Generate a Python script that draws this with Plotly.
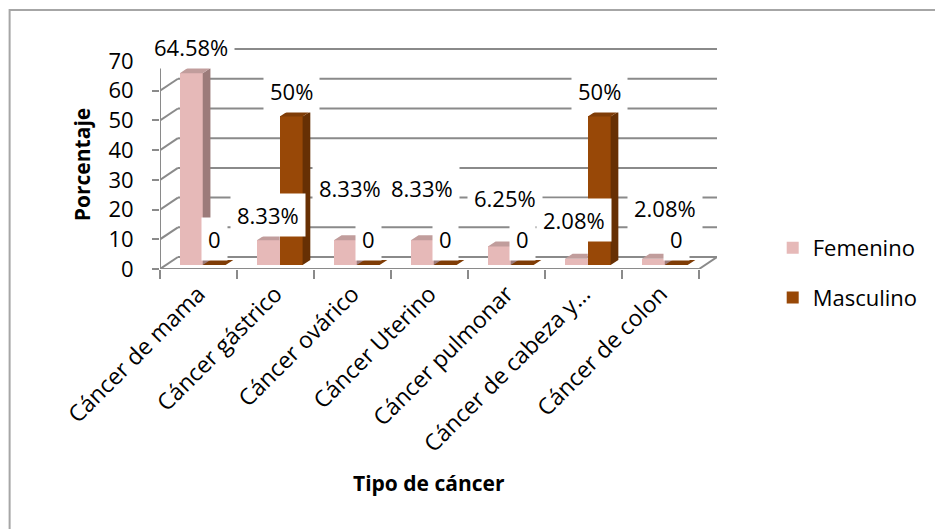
import plotly.graph_objects as go

# ---- data -------------------------------------------------------------
categorias = ["Cáncer de mama", "Cáncer gástrico", "Cáncer ovárico", "Cáncer Uterino",
              "Cáncer pulmonar", "Cáncer de cabeza y…", "Cáncer de colon"]
femenino = [64.58, 8.33, 8.33, 8.33, 6.25, 2.08, 2.08]
masculino = [0, 50, 0, 0, 0, 50, 0]
ticks_y = [0, 10, 20, 30, 40, 50, 60, 70]

# ---- styling / pseudo-3D geometry (axis units) -------------------------
FONT = "Open Sans"
ROSA, ROSA_TOP, ROSA_LADO = "#E6B9B8", "#C19d9c", "#9c7b7a"
CAFE, CAFE_TOP, CAFE_LADO = "#984807", "#7f3c06", "#673004"
GRIS = "#8a8a8a"

W = 0.297      # bar width
S = 0.055      # row offset of the bar row
LIFT = 1.35    # bar base above the front floor edge
DX, DY = 0.10, 1.7    # bar depth
BX, BY = 0.233, 4.04  # wall depth
Y_MAX = 74.4

# extra placement of the Femenino value labels (dx in categories, dy in %)
fem_lbl_dx = [0, 0, 0.06, 0, 0.07, -0.03, 0.15]
fem_lbl_dy = [0, 0, 9, 9, 7.5, 4.5, 8.5]


def etiqueta(v):
    return "0" if v == 0 else f"{v:g}%"


n = len(categorias)
fig = go.Figure()

# front faces
fig.add_trace(go.Bar(
    x=[i + S - W / 2 for i in range(n)], y=femenino, base=[LIFT] * n, width=W,
    marker=dict(color=ROSA, line=dict(width=0)), name="Femenino",
    legendgroup="f"))
fig.add_trace(go.Bar(
    x=[i + S + W / 2 for i in range(n)], y=masculino, base=[LIFT] * n, width=W,
    marker=dict(color=CAFE, line=dict(width=0)), name="Masculino",
    legendgroup="m"))


def poly_trace(polys, color):
    xs, ys = [], []
    for p in polys:
        xs += [q[0] for q in p] + [p[0][0], None]
        ys += [q[1] for q in p] + [p[0][1], None]
    return go.Scatter(x=xs, y=ys, mode="lines", fill="toself", fillcolor=color,
                      line=dict(width=0, color=color), hoverinfo="skip",
                      showlegend=False)


fem_side, fem_top, masc_side, masc_top = [], [], [], []
for i, (fv, mv) in enumerate(zip(femenino, masculino)):
    fx0, fx1 = i + S - W, i + S
    mx0, mx1 = i + S, i + S + W
    t, m = LIFT + fv, LIFT + mv
    if fv > mv:
        fem_side.append([(fx1, m), (fx1, t), (fx1 + DX, t + DY), (fx1 + DX, m)])
        fem_top.append([(fx0, t), (fx1, t), (fx1 + DX, t + DY), (fx0 + DX, t + DY)])
    else:
        fem_top.append([(fx0, t), (fx1, t), (fx1, t + DY), (fx0 + DX, t + DY)])
    if mv > 0:
        masc_side.append([(mx1, LIFT), (mx1, m), (mx1 + DX, m + DY), (mx1 + DX, LIFT + DY)])
    masc_top.append([(mx0, m), (mx1, m), (mx1 + DX, m + DY), (mx0 + DX, m + DY)])

fig.add_trace(poly_trace(fem_side, ROSA_LADO))
fig.add_trace(poly_trace(fem_top, ROSA_TOP))
fig.add_trace(poly_trace(masc_side, CAFE_LADO))
fig.add_trace(poly_trace(masc_top, CAFE_TOP))

# ---- walls, floor and gridlines --------------------------------------
shapes = []
x_lo, x_hi = -0.5, n - 0.5
for v in ticks_y:
    shapes.append(dict(type="line", xref="x", yref="y", layer="below",
                       x0=x_lo + BX, x1=x_hi + BX, y0=v + BY, y1=v + BY,
                       line=dict(color=GRIS, width=2)))
    shapes.append(dict(type="line", xref="x", yref="y", layer="below",
                       x0=x_lo, x1=x_lo + BX, y0=v, y1=v + BY,
                       line=dict(color=GRIS, width=2)))
shapes.append(dict(type="line", xref="x", yref="y", layer="below",
                   x0=x_lo, x1=x_lo, y0=0, y1=ticks_y[-1],
                   line=dict(color=GRIS, width=2)))
shapes.append(dict(type="line", xref="x", yref="y", layer="below",
                   x0=x_lo, x1=x_hi, y0=0, y1=0, line=dict(color=GRIS, width=2)))
shapes.append(dict(type="line", xref="x", yref="y", layer="below",
                   x0=x_hi, x1=x_hi + BX, y0=0, y1=BY, line=dict(color=GRIS, width=2)))
# chart area frame
shapes.append(dict(type="rect", xref="paper", yref="paper",
                   x0=-0.27, x1=1.41, y0=-1.23, y1=1.172,
                   line=dict(color="#a6a6a6", width=2), fillcolor="rgba(0,0,0,0)"))

# ---- value labels ------------------------------------------------------
annotations = []
for i, (fv, mv) in enumerate(zip(femenino, masculino)):
    yf = fv + 10 + fem_lbl_dy[i]
    annotations.append(dict(
        x=i + S - W / 2 + fem_lbl_dx[i], y=min(yf, Y_MAX), yshift=max(0, yf - Y_MAX) * 2.97,
        xref="x", yref="y",
        text=etiqueta(fv), showarrow=False, bgcolor="white", borderpad=6,
        xanchor="center", yanchor="middle",
        font=dict(family=FONT, size=22, color="black")))
    annotations.append(dict(
        x=i + S + W / 2, y=mv + 10, xref="x", yref="y",
        text=etiqueta(mv), showarrow=False, bgcolor="white", borderpad=6,
        xanchor="center", yanchor="middle",
        font=dict(family=FONT, size=22, color="black")))

# axis titles
annotations.append(dict(text="<b>Tipo de cáncer</b>", xref="paper", yref="paper",
                        x=0.483, y=-0.968, showarrow=False,
                        xanchor="center", yanchor="middle",
                        font=dict(family=FONT, size=21, color="black")))
annotations.append(dict(text="<b>Porcentaje</b>", xref="paper", yref="paper",
                        x=-0.14, y=0.47, showarrow=False, textangle=-90,
                        xanchor="center", yanchor="middle",
                        font=dict(family=FONT, size=21, color="black")))

fig.update_layout(
    width=935, height=529,
    margin=dict(l=160, r=216, t=48, b=260),
    paper_bgcolor="white", plot_bgcolor="white",
    barmode="overlay", bargap=0,
    font=dict(family=FONT, size=22, color="black"),
    shapes=shapes, annotations=annotations,
    showlegend=True,
    legend=dict(x=1.10, y=0.19, xanchor="left", yanchor="top",
                tracegroupgap=18, font=dict(family=FONT, size=22, color="black"),
                bgcolor="rgba(0,0,0,0)"),
    xaxis=dict(range=[x_lo, x_hi + BX], tickmode="array",
               tickvals=list(range(n)), ticktext=categorias, tickangle=-45,
               ticks="", showgrid=False, zeroline=False, showline=False,
               ticklabelstandoff=6,
               tickfont=dict(family=FONT, size=23, color="black"),
               minor=dict(tickmode="array", tickvals=[k - 0.5 for k in range(n + 1)],
                          ticks="outside", ticklen=9, tickwidth=2, tickcolor=GRIS,
                          showgrid=False)),
    yaxis=dict(range=[0, Y_MAX], tickmode="array", tickvals=ticks_y,
               ticks="outside", ticklen=7, tickwidth=2, tickcolor=GRIS,
               ticklabelstandoff=14, showgrid=False, zeroline=False, showline=False,
               tickfont=dict(family=FONT, size=22, color="black")),
)

fig.write_html("out.html")
